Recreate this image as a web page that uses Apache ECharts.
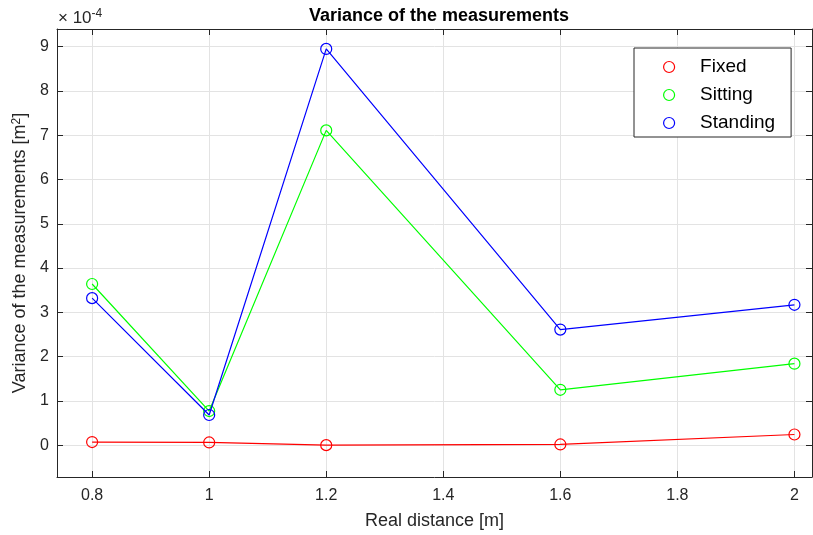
<!DOCTYPE html>
<html>
<head>
<meta charset="utf-8">
<script src="https://cdn.jsdelivr.net/npm/echarts@6/dist/echarts.min.js"></script>
<style>
  html, body { margin: 0; padding: 0; background: #fff; }
  #chart { width: 813px; height: 535px; }
</style>
</head>
<body>
<div id="chart"></div>
<script>
// data (variance in units of 1e-4 m^2)
var distances = [0.8, 1.0, 1.2, 1.6, 2.0];
var fixed = [0.07, 0.06, 0.0, 0.015, 0.24];
var sitting = [3.64, 0.77, 7.11, 1.25, 1.84];
var standing = [3.32, 0.68, 8.95, 2.61, 3.17];
var xTicks = [0.8, 1, 1.2, 1.4, 1.6, 1.8, 2];
var yTicks = [0, 1, 2, 3, 4, 5, 6, 7, 8, 9];
var seriesNames = ['Fixed', 'Sitting', 'Standing'];
var colors = ['#ff0000', '#00ff00', '#0000ff'];

var font = 'Liberation Sans, Arial, sans-serif';
var axisColor = '#262626';
var gridColor = '#e3e3e3';

function pairs(vals) {
  var out = [];
  for (var i = 0; i < distances.length; i++) out.push([distances[i], vals[i]]);
  return out;
}

var xBase = { type: 'value', min: 0.74, max: 2.03, gridIndex: 0 };
var yBase = { type: 'value', min: -0.72, max: 9.4, gridIndex: 0 };
var line = { onZero: false, lineStyle: { color: axisColor, width: 1 } };

var myChart = echarts.init(document.getElementById('chart'));
var option = {
  backgroundColor: '#fff',
  animation: false,
  title: {
    text: 'Variance of the measurements',
    left: 434, top: 2, textAlign: 'center',
    textStyle: { fontFamily: font, fontSize: 18, fontWeight: 'bold', color: '#000' }
  },
  grid: { left: 57, right: 1, top: 29, bottom: 56 },
  legend: {
    orient: 'vertical',
    left: 634, top: 48,
    padding: [9, 16, 4, 29],
    itemWidth: 52, itemHeight: 11,
    itemGap: 8,
    borderColor: axisColor, borderWidth: 1,
    backgroundColor: '#fff',
    textStyle: { fontFamily: font, fontSize: 19, color: '#000', lineHeight: 20 },
    data: seriesNames.map(function (n, i) {
      return { name: n, icon: 'circle',
        itemStyle: { color: '#fff', borderColor: colors[i], borderWidth: 1.2 } };
    })
  },
  graphic: [{
    type: 'text', left: 58, top: 8,
    style: {
      text: '× 10{sup|-4}',
      font: '17px ' + font, fill: '#262626',
      rich: { sup: { fontSize: 12, verticalAlign: 'top', padding: [0, 0, 9, 0], fontFamily: font, fill: '#262626' } }
    }
  }],
  xAxis: [
    Object.assign({}, xBase, {
      position: 'bottom',
      name: 'Real distance [m]', nameLocation: 'middle', nameGap: 35,
      nameTextStyle: { fontFamily: font, fontSize: 18, color: '#262626' },
      axisLine: line,
      axisTick: { inside: true, length: 6, customValues: xTicks, lineStyle: { color: axisColor } },
      axisLabel: { customValues: xTicks, fontFamily: font, fontSize: 16, color: '#262626', margin: 11 },
      splitLine: { show: true, lineStyle: { color: gridColor, width: 1 } }
    }),
    Object.assign({}, xBase, {
      position: 'top',
      axisLine: line,
      axisTick: { inside: true, length: 6, customValues: xTicks, lineStyle: { color: axisColor } },
      axisLabel: { show: false },
      splitLine: { show: false }
    })
  ],
  yAxis: [
    Object.assign({}, yBase, {
      position: 'left',
      name: 'Variance of the measurements [m{sup|2}]', nameLocation: 'middle', nameGap: 17,
      nameTextStyle: { fontFamily: font, fontSize: 18, color: '#262626',
        rich: { sup: { fontSize: 12, verticalAlign: 'top', padding: [0, 0, 8, 0], fontFamily: font, color: '#262626' } } },
      axisLine: Object.assign({ show: true }, line),
      axisTick: { show: true, inside: true, length: 6, customValues: yTicks, lineStyle: { color: axisColor } },
      axisLabel: { customValues: yTicks, fontFamily: font, fontSize: 16, color: '#262626', margin: 8 },
      splitLine: { show: true, lineStyle: { color: gridColor, width: 1 } }
    }),
    Object.assign({}, yBase, {
      position: 'right',
      axisLine: Object.assign({ show: true }, line),
      axisTick: { show: true, inside: true, length: 6, customValues: yTicks, lineStyle: { color: axisColor } },
      axisLabel: { show: false },
      splitLine: { show: false }
    })
  ],
  series: [fixed, sitting, standing].map(function (vals, i) {
    return {
      name: seriesNames[i],
      type: 'line',
      xAxisIndex: 0, yAxisIndex: 0,
      data: pairs(vals),
      symbol: 'circle', symbolSize: 11,
      itemStyle: { color: 'rgba(255,255,255,0)', borderColor: colors[i], borderWidth: 1.2 },
      lineStyle: { color: colors[i], width: 1.2 },
      emphasis: { disabled: true },
      z: 3 + i
    };
  })
};
myChart.setOption(option);
</script>
</body>
</html>
